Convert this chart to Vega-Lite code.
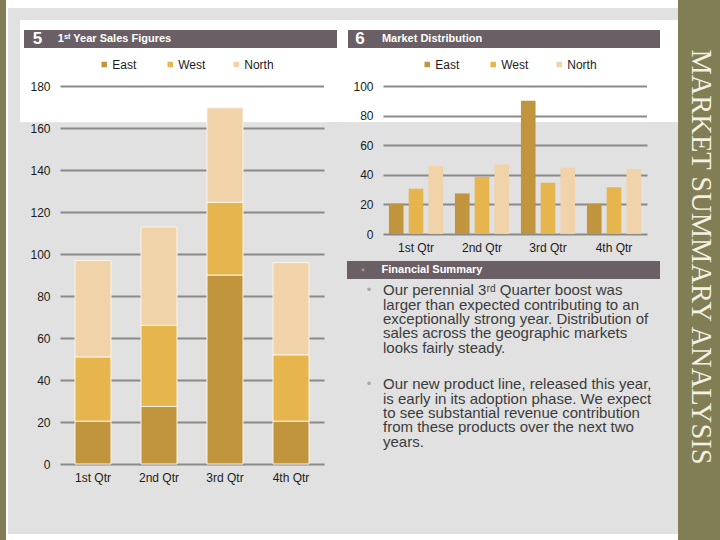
{
  "$schema": "https://vega.github.io/schema/vega-lite/v6.json",
  "padding": 0,
  "background": "#e1e1e1",
  "spacing": 0,
  "datasets": {
    "sales": [
      {"quarter": "1st Qtr", "region": "East", "sales": 20.4},
      {"quarter": "2nd Qtr", "region": "East", "sales": 27.4},
      {"quarter": "3rd Qtr", "region": "East", "sales": 90},
      {"quarter": "4th Qtr", "region": "East", "sales": 20.4},
      {"quarter": "1st Qtr", "region": "West", "sales": 30.6},
      {"quarter": "2nd Qtr", "region": "West", "sales": 38.6},
      {"quarter": "3rd Qtr", "region": "West", "sales": 34.6},
      {"quarter": "4th Qtr", "region": "West", "sales": 31.6},
      {"quarter": "1st Qtr", "region": "North", "sales": 45.9},
      {"quarter": "2nd Qtr", "region": "North", "sales": 46.9},
      {"quarter": "3rd Qtr", "region": "North", "sales": 45},
      {"quarter": "4th Qtr", "region": "North", "sales": 43.9}
    ],
    "regions": [{"region": "East"}, {"region": "West"}, {"region": "North"}],
    "summary1": [
      {"line": "Our perennial 3ʳᵈ Quarter boost was", "bullet": "•"},
      {"line": "larger than expected contributing to an", "bullet": ""},
      {"line": "exceptionally strong year. Distribution of", "bullet": ""},
      {"line": "sales across the geographic markets", "bullet": ""},
      {"line": "looks fairly steady.", "bullet": ""}
    ],
    "summary2": [
      {"line": "Our new product line, released this year,", "bullet": "•"},
      {"line": "is early in its adoption phase. We expect", "bullet": ""},
      {"line": "to see substantial revenue contribution", "bullet": ""},
      {"line": "from these products over the next two", "bullet": ""},
      {"line": "years.", "bullet": ""}
    ]
  },
  "config": {
    "view": {"stroke": null},
    "concat": {"spacing": 0},
    "font": "Liberation Sans",
    "axis": {
      "title": null, "domain": false, "ticks": false,
      "labelFont": "Liberation Sans", "labelFontSize": 12, "labelColor": "#1c1c1c",
      "gridColor": "#8a8a8a", "gridWidth": 2, "gridOpacity": 1
    }
  },
  "hconcat": [
    {"width": 6, "height": 540, "data": {"values": [{}]}, "mark": {"type": "rect", "color": "#817d55"}, "encoding": {}},
    {"width": 2, "height": 540, "data": {"values": [{}]}, "mark": {"type": "rect", "color": "#ffffff"}, "encoding": {}},
    {"vconcat": [
      {"width": 670, "height": 8, "data": {"values": [{}]}, "mark": {"type": "rect", "color": "#ffffff"}, "encoding": {}},
      {"hconcat": [
        {"width": 12, "height": 524, "data": {"values": [{}]}, "mark": {"type": "rect", "opacity": 0}, "encoding": {}},
        {"vconcat": [
          {"width": 658, "height": 12, "data": {"values": [{}]}, "mark": {"type": "rect", "opacity": 0}, "encoding": {}},
          {"hconcat": [
            {"vconcat": [
              {"width": 322, "height": 10, "data": {"values": [{}]}, "mark": {"type": "rect", "color": "#ffffff"}, "encoding": {}},
              {"bounds": "flush", "hconcat": [
                {"width": 4, "height": 18, "data": {"values": [{}]}, "mark": {"type": "rect", "color": "#ffffff"}, "encoding": {}},
                {"width": 27, "height": 18, "view": {"fill": "#6a5f65"}, "data": {"values": [{"t": "5"}]},
                 "mark": {"type": "text", "fontWeight": "bold", "fontSize": 17, "color": "#ffffff", "align": "center", "baseline": "middle"},
                 "encoding": {"text": {"field": "t"}}},
                {"width": 127, "height": 18, "view": {"fill": "#6a5f65"}, "data": {"values": [{"t": "1ˢᵗ Year Sales Figures"}]},
                 "mark": {"type": "text", "fontWeight": "bold", "fontSize": 11, "color": "#ffffff", "align": "center", "baseline": "middle"},
                 "encoding": {"text": {"field": "t"}}},
                {"width": 159, "height": 18, "data": {"values": [{}]}, "mark": {"type": "rect", "color": "#6a5f65"}, "encoding": {}},
                {"width": 5, "height": 18, "data": {"values": [{}]}, "mark": {"type": "rect", "color": "#ffffff"}, "encoding": {}}
              ]},
              {"hconcat": [
                {"bounds": "flush", "vconcat": [
                  {"width": 40, "height": 38, "data": {"values": [{}]}, "mark": {"type": "rect", "color": "#ffffff"}, "encoding": {}},
                  {"width": 40, "height": 378,
                   "view": {"fill": {"gradient": "linear", "x1": 0, "y1": 0, "x2": 0, "y2": 1, "stops": [
                     {"offset": 0, "color": "#ffffff"}, {"offset": 0.095, "color": "#ffffff"},
                     {"offset": 0.097, "color": "#e1e1e1"}, {"offset": 1, "color": "#e1e1e1"}]}},
                   "data": {"name": "sales"},
                   "mark": {"type": "point", "opacity": 0},
                   "encoding": {
                     "y": {"field": "sales", "type": "quantitative", "scale": {"domain": [0, 180], "nice": false},
                           "axis": {"values": [0, 20, 40, 60, 80, 100, 120, 140, 160, 180], "grid": false, "offset": -40, "labelPadding": 10}}
                   }},
                  {"width": 40, "height": 68, "data": {"values": [{}]}, "mark": {"type": "rect", "opacity": 0}, "encoding": {}}
                ]},
                {"bounds": "flush", "vconcat": [
                  {"width": 264, "height": 33, "view": {"fill": "#ffffff"}, "data": {"name": "regions"},
                   "encoding": {"x": {"field": "region", "type": "nominal", "sort": ["East", "West", "North"], "scale": {"type": "point", "padding": 2, "align": 0.335}, "axis": null}},
                   "layer": [
                     {"mark": {"type": "square", "size": 30, "opacity": 1},
                      "encoding": {"color": {"field": "region", "type": "nominal", "scale": {"domain": ["East", "West", "North"], "range": ["#c0953d", "#e6b54d", "#f0d3a9"]}, "legend": null}}},
                     {"mark": {"type": "text", "align": "left", "baseline": "middle", "dx": 8, "fontSize": 12, "color": "#1c1c1c"},
                      "encoding": {"text": {"field": "region"}}}
                   ]},
                  {"width": 264, "height": 5, "data": {"values": [{}]}, "mark": {"type": "rect", "color": "#ffffff"}, "encoding": {}},
                  {"width": 264, "height": 378,
                   "view": {"fill": {"gradient": "linear", "x1": 0, "y1": 0, "x2": 0, "y2": 1, "stops": [
                     {"offset": 0, "color": "#ffffff"}, {"offset": 0.095, "color": "#ffffff"},
                     {"offset": 0.097, "color": "#e1e1e1"}, {"offset": 1, "color": "#e1e1e1"}]}},
                   "data": {"name": "sales"},
                   "transform": [{"window": [{"op": "row_number", "as": "stackOrder"}], "groupby": ["quarter"]}],
                   "mark": {"type": "bar", "stroke": "#fbf4e6", "strokeWidth": 1},
                   "encoding": {
                     "x": {"field": "quarter", "type": "nominal", "sort": ["1st Qtr", "2nd Qtr", "3rd Qtr", "4th Qtr"],
                           "scale": {"paddingInner": 0.4545, "paddingOuter": 0.2273},
                           "axis": {"labelAngle": 0, "labelPadding": 8, "grid": false}},
                     "y": {"field": "sales", "type": "quantitative", "stack": "zero",
                           "scale": {"domain": [0, 180], "nice": false},
                           "axis": {"values": [0, 20, 40, 60, 80, 100, 120, 140, 160, 180], "grid": true, "labels": false}},
                     "color": {"field": "region", "type": "nominal",
                               "scale": {"domain": ["East", "West", "North"], "range": ["#c0953d", "#e6b54d", "#f0d3a9"]}, "legend": null},
                     "order": {"field": "stackOrder", "type": "quantitative"}
                   }},
                  {"width": 264, "height": 68, "data": {"values": [{}]}, "mark": {"type": "rect", "opacity": 0}, "encoding": {}}
                ]},
                {"bounds": "flush", "vconcat": [
                  {"width": 18, "height": 74, "data": {"values": [{}]}, "mark": {"type": "rect", "color": "#ffffff"}, "encoding": {}},
                  {"width": 18, "height": 410, "data": {"values": [{}]}, "mark": {"type": "rect", "opacity": 0}, "encoding": {}}
                ]}
              ]}
            ]},
            {"vconcat": [
              {"width": 336, "height": 10, "data": {"values": [{}]}, "mark": {"type": "rect", "color": "#ffffff"}, "encoding": {}},
              {"bounds": "flush", "hconcat": [
                {"width": 6, "height": 18, "data": {"values": [{}]}, "mark": {"type": "rect", "color": "#ffffff"}, "encoding": {}},
                {"width": 24, "height": 18, "view": {"fill": "#6a5f65"}, "data": {"values": [{"t": "6"}]},
                 "mark": {"type": "text", "fontWeight": "bold", "fontSize": 17, "color": "#ffffff", "align": "center", "baseline": "middle"},
                 "encoding": {"text": {"field": "t"}}},
                {"width": 120, "height": 18, "view": {"fill": "#6a5f65"}, "data": {"values": [{"t": "Market Distribution"}]},
                 "mark": {"type": "text", "fontWeight": "bold", "fontSize": 11, "color": "#ffffff", "align": "center", "baseline": "middle"},
                 "encoding": {"text": {"field": "t"}}},
                {"width": 168, "height": 18, "data": {"values": [{}]}, "mark": {"type": "rect", "color": "#6a5f65"}, "encoding": {}},
                {"width": 18, "height": 18, "data": {"values": [{}]}, "mark": {"type": "rect", "color": "#ffffff"}, "encoding": {}}
              ]},
              {"hconcat": [
                {"bounds": "flush", "vconcat": [
                  {"width": 41, "height": 38, "data": {"values": [{}]}, "mark": {"type": "rect", "color": "#ffffff"}, "encoding": {}},
                  {"width": 41, "height": 148,
                   "view": {"fill": {"gradient": "linear", "x1": 0, "y1": 0, "x2": 0, "y2": 1, "stops": [
                     {"offset": 0, "color": "#ffffff"}, {"offset": 0.243, "color": "#ffffff"},
                     {"offset": 0.247, "color": "#e1e1e1"}, {"offset": 1, "color": "#e1e1e1"}]}},
                   "data": {"name": "sales"},
                   "mark": {"type": "point", "opacity": 0},
                   "encoding": {
                     "y": {"field": "sales", "type": "quantitative", "scale": {"domain": [0, 100], "nice": false},
                           "axis": {"values": [0, 20, 40, 60, 80, 100], "grid": false, "offset": -41, "labelPadding": 10}}
                   }},
                  {"width": 41, "height": 27, "data": {"values": [{}]}, "mark": {"type": "rect", "opacity": 0}, "encoding": {}}
                ]},
                {"bounds": "flush", "vconcat": [
                  {"width": 264, "height": 33, "view": {"fill": "#ffffff"}, "data": {"name": "regions"},
                   "encoding": {"x": {"field": "region", "type": "nominal", "sort": ["East", "West", "North"], "scale": {"type": "point", "padding": 2, "align": 0.335}, "axis": null}},
                   "layer": [
                     {"mark": {"type": "square", "size": 30, "opacity": 1},
                      "encoding": {"color": {"field": "region", "type": "nominal", "scale": {"domain": ["East", "West", "North"], "range": ["#c0953d", "#e6b54d", "#f0d3a9"]}, "legend": null}}},
                     {"mark": {"type": "text", "align": "left", "baseline": "middle", "dx": 8, "fontSize": 12, "color": "#1c1c1c"},
                      "encoding": {"text": {"field": "region"}}}
                   ]},
                  {"width": 264, "height": 5, "data": {"values": [{}]}, "mark": {"type": "rect", "color": "#ffffff"}, "encoding": {}},
                  {"width": 264, "height": 148,
                   "view": {"fill": {"gradient": "linear", "x1": 0, "y1": 0, "x2": 0, "y2": 1, "stops": [
                     {"offset": 0, "color": "#ffffff"}, {"offset": 0.243, "color": "#ffffff"},
                     {"offset": 0.247, "color": "#e1e1e1"}, {"offset": 1, "color": "#e1e1e1"}]}},
                   "data": {"name": "sales"},
                   "mark": {"type": "bar"},
                   "encoding": {
                     "x": {"field": "quarter", "type": "nominal", "sort": ["1st Qtr", "2nd Qtr", "3rd Qtr", "4th Qtr"],
                           "scale": {"paddingInner": 0.18, "paddingOuter": 0.09},
                           "axis": {"labelAngle": 0, "labelPadding": 8, "grid": false}},
                     "xOffset": {"field": "region", "type": "nominal", "sort": ["East", "West", "North"],
                                 "scale": {"paddingInner": 0.26, "paddingOuter": 0}},
                     "y": {"field": "sales", "type": "quantitative", "stack": null,
                           "scale": {"domain": [0, 100], "nice": false},
                           "axis": {"values": [0, 20, 40, 60, 80, 100], "grid": true, "labels": false}},
                     "color": {"field": "region", "type": "nominal",
                               "scale": {"domain": ["East", "West", "North"], "range": ["#c0953d", "#e6b54d", "#f0d3a9"]}, "legend": null}
                   }},
                  {"width": 264, "height": 27, "data": {"values": [{}]}, "mark": {"type": "rect", "opacity": 0}, "encoding": {}}
                ]},
                {"bounds": "flush", "vconcat": [
                  {"width": 31, "height": 74, "data": {"values": [{}]}, "mark": {"type": "rect", "color": "#ffffff"}, "encoding": {}},
                  {"width": 31, "height": 139, "data": {"values": [{}]}, "mark": {"type": "rect", "opacity": 0}, "encoding": {}}
                ]}
              ]},
              {"bounds": "flush", "hconcat": [
                {"width": 5, "height": 18, "data": {"values": [{}]}, "mark": {"type": "rect", "opacity": 0}, "encoding": {}},
                {"width": 32, "height": 18, "view": {"fill": "#6a5f65"}, "data": {"values": [{"t": "▪"}]},
                 "mark": {"type": "text", "fontSize": 10, "color": "#9c9c9c", "align": "center", "baseline": "middle"},
                 "encoding": {"text": {"field": "t"}}},
                {"width": 106, "height": 18, "view": {"fill": "#6a5f65"}, "data": {"values": [{"t": "Financial Summary"}]},
                 "mark": {"type": "text", "fontWeight": "bold", "fontSize": 11, "color": "#ffffff", "align": "center", "baseline": "middle"},
                 "encoding": {"text": {"field": "t"}}},
                {"width": 175, "height": 18, "data": {"values": [{}]}, "mark": {"type": "rect", "color": "#6a5f65"}, "encoding": {}},
                {"width": 18, "height": 18, "data": {"values": [{}]}, "mark": {"type": "rect", "opacity": 0}, "encoding": {}}
              ]},
              {"width": 336, "height": 4, "data": {"values": [{}]}, "mark": {"type": "rect", "opacity": 0}, "encoding": {}},
              {"bounds": "flush", "hconcat": [
                {"width": 27, "height": 72, "data": {"values": [{}]}, "mark": {"type": "rect", "opacity": 0}, "encoding": {}},
                {"width": 14, "height": 72,
                 "data": {"name": "summary1"},
                 "encoding": {
                   "y": {"field": "line", "type": "nominal", "sort": null, "scale": {"type": "point", "padding": 0.5}, "axis": null}
                 },
                 "layer": [
                   {"transform": [{"filter": "datum.bullet !== ''"}],
                    "mark": {"type": "text", "align": "center", "baseline": "middle", "fontSize": 13, "color": "#a9a9a9"},
                    "encoding": {
                      "x": {"datum": "bullet", "type": "nominal", "scale": {"type": "point", "domain": ["bullet", "body"], "padding": 0}, "axis": null},
                      "text": {"field": "bullet"}
                    }},
                   {"mark": {"type": "text", "align": "left", "baseline": "middle", "fontSize": 15, "color": "#3c3c3c"},
                    "encoding": {
                      "x": {"datum": "body", "type": "nominal", "scale": {"type": "point", "domain": ["bullet", "body"], "padding": 0}, "axis": null},
                      "text": {"field": "line"}
                    }}
                 ]}
              ]},
              {"width": 336, "height": 21, "data": {"values": [{}]}, "mark": {"type": "rect", "opacity": 0}, "encoding": {}},
              {"bounds": "flush", "hconcat": [
                {"width": 27, "height": 72, "data": {"values": [{}]}, "mark": {"type": "rect", "opacity": 0}, "encoding": {}},
                {"width": 14, "height": 72,
                 "data": {"name": "summary2"},
                 "encoding": {
                   "y": {"field": "line", "type": "nominal", "sort": null, "scale": {"type": "point", "padding": 0.5}, "axis": null}
                 },
                 "layer": [
                   {"transform": [{"filter": "datum.bullet !== ''"}],
                    "mark": {"type": "text", "align": "center", "baseline": "middle", "fontSize": 13, "color": "#a9a9a9"},
                    "encoding": {
                      "x": {"datum": "bullet", "type": "nominal", "scale": {"type": "point", "domain": ["bullet", "body"], "padding": 0}, "axis": null},
                      "text": {"field": "bullet"}
                    }},
                   {"mark": {"type": "text", "align": "left", "baseline": "middle", "fontSize": 15, "color": "#3c3c3c"},
                    "encoding": {
                      "x": {"datum": "body", "type": "nominal", "scale": {"type": "point", "domain": ["bullet", "body"], "padding": 0}, "axis": null},
                      "text": {"field": "line"}
                    }}
                 ]}
              ]},
              {"width": 336, "height": 84, "data": {"values": [{}]}, "mark": {"type": "rect", "opacity": 0}, "encoding": {}}
            ]}
          ]}
        ]}
      ]},
      {"width": 670, "height": 8, "data": {"values": [{}]}, "mark": {"type": "rect", "color": "#ffffff"}, "encoding": {}}
    ]},
    {"hconcat": [
      {"width": 4, "height": 540, "data": {"values": [{}]}, "mark": {"type": "rect", "color": "#817d55"}, "encoding": {}},
      {"bounds": "flush", "vconcat": [
        {"width": 38, "height": 514, "view": {"fill": "#817d55"}, "data": {"values": [{"t": "MARKET SUMMARY ANALYSIS"}]},
         "mark": {"type": "text", "angle": 90, "font": "Liberation Serif", "fontSize": 28.5, "color": "#f4f0e2", "align": "center", "baseline": "middle"},
         "encoding": {"text": {"field": "t"}}},
        {"width": 38, "height": 26, "data": {"values": [{}]}, "mark": {"type": "rect", "color": "#817d55"}, "encoding": {}}
      ]}
    ]}
  ]
}
